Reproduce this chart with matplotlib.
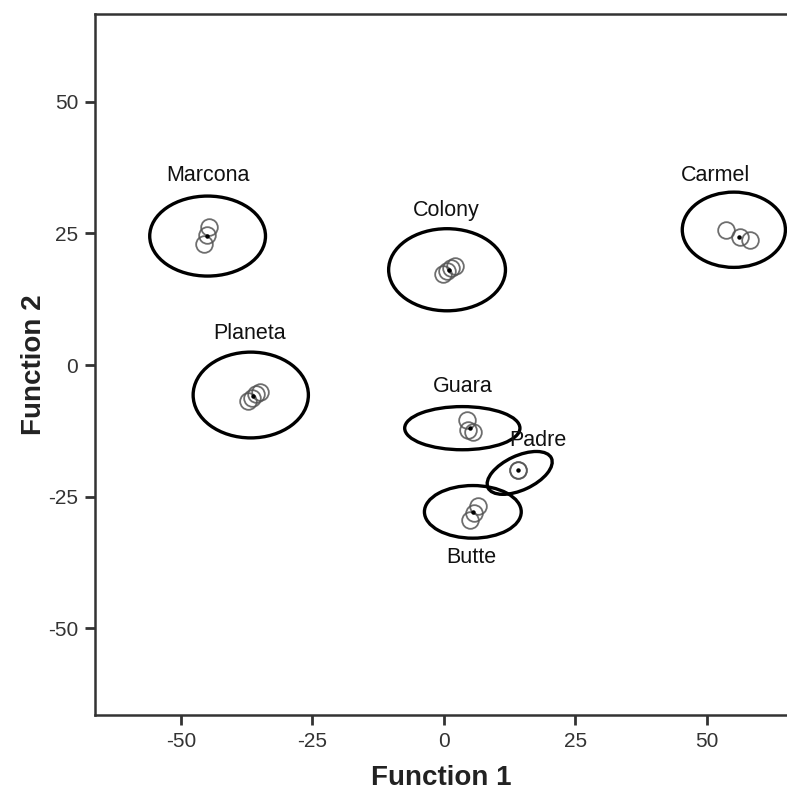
import matplotlib.pyplot as plt
from matplotlib.patches import Ellipse
from matplotlib.ticker import FuncFormatter

plt.rcParams['font.family'] = ['Liberation Sans', 'DejaVu Sans']

# cultivar groups: labels, centroids, ellipse size, label position
groups = ["Marcona", "Colony", "Carmel", "Planeta", "Guara", "Padre", "Butte"]
cent_x = [-45.0, 1.0, 56.0, -36.3, 4.9, 14.1, 5.6]
cent_y = [24.6, 18.0, 24.4, -5.9, -12.0, -20.0, -27.9]
ell_x = [-44.9, 0.6, 55.1, -36.7, 3.5, 14.4, 5.5]
ell_y = [24.5, 18.1, 25.7, -5.7, -12.0, -20.5, -27.9]
ell_w = [22.0, 22.2, 19.6, 21.9, 21.9, 13.3, 18.4]
ell_h = [15.2, 15.6, 14.3, 16.3, 8.2, 6.5, 10.0]
ell_ang = [0, 0, 0, 0, 0, 25, 0]
lab_x = [-44.9, 0.4, 51.7, -36.9, 3.6, 17.9, 5.3]
lab_y = [36.1, 29.3, 36.1, 5.9, -4.0, -14.4, -36.5]

# individual sample scores
pts_x = [-44.7, -45.1, -45.6,
         -0.2, 0.6, 1.3, 2.1,
         53.6, 56.3, 58.2,
         -37.3, -36.5, -35.7, -35.0,
         4.4, 4.6, 5.5,
         14.1, 14.1,
         6.5, 5.7, 4.9]
pts_y = [26.2, 24.7, 23.0,
         17.3, 17.9, 18.4, 18.8,
         25.7, 24.3, 23.8,
         -6.8, -6.3, -5.5, -5.1,
         -10.5, -12.4, -12.7,
         -20.0, -20.0,
         -26.8, -28.1, -29.5]

ticks = [-50, -25, 0, 25, 50]

fig = plt.figure(figsize=(7.87, 7.98), dpi=100)
ax = fig.add_axes([0.1207, 0.104, 0.8793, 0.8785])

ax.plot(pts_x, pts_y, 'o', ms=12, mfc='none', mec='#555555', mew=1.3, alpha=0.85)
ax.plot(cent_x, cent_y, 'o', ms=2.2, color='black')

for i, g in enumerate(groups):
    ax.add_patch(Ellipse((ell_x[i], ell_y[i]), ell_w[i], ell_h[i], angle=ell_ang[i],
                         fill=False, ec='black', lw=2.4))
    ax.text(lab_x[i], lab_y[i], g, ha='center', va='center', fontsize=15.5, color='#111111')

ax.set_xlim(-66.3, 65.2)
ax.set_ylim(-66.5, 66.7)
ax.set_xticks(ticks)
ax.set_yticks(ticks)
fmt = FuncFormatter(lambda v, p: str(int(v)))
ax.xaxis.set_major_formatter(fmt)
ax.yaxis.set_major_formatter(fmt)
ax.spines['right'].set_visible(False)
for s in ['left', 'top', 'bottom']:
    ax.spines[s].set_linewidth(1.8)
    ax.spines[s].set_color('#333333')
ax.tick_params(length=7, width=2, color='#333333', labelsize=15,
               labelcolor='#333333', pad=5)

ax.set_xlabel("Function 1", fontsize=20, fontweight='bold', color='#222222', labelpad=10)
ax.set_ylabel("Function 2", fontsize=20, fontweight='bold', color='#222222', labelpad=1)

fig.savefig("out.png", dpi=100)
